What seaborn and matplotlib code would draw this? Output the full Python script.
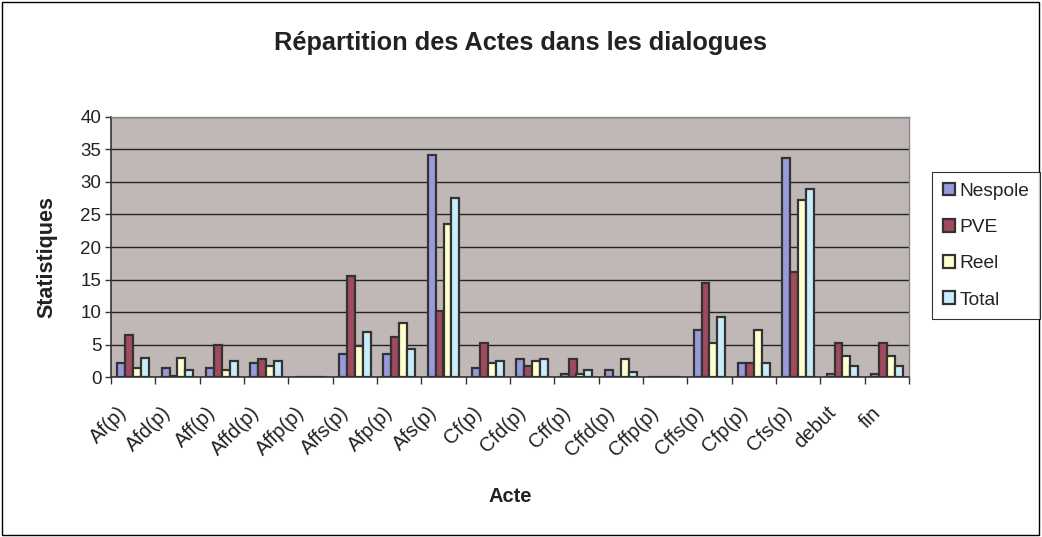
import matplotlib
matplotlib.use('Agg')
from matplotlib import pyplot as plt
from matplotlib.patches import Rectangle
from matplotlib.transforms import ScaledTranslation
import numpy as np
import pandas as pd
import seaborn as sns

actes = ['Af(p)', 'Afd(p)', 'Aff(p)', 'Affd(p)', 'Affp(p)', 'Affs(p)', 'Afp(p)', 'Afs(p)',
         'Cf(p)', 'Cfd(p)', 'Cff(p)', 'Cffd(p)', 'Cffp(p)', 'Cffs(p)', 'Cfp(p)', 'Cfs(p)',
         'debut', 'fin']
nespole = [2.1, 1.4, 1.4, 2.1, 0, 3.6, 3.6, 34.1, 1.4, 2.7, 0.5, 1.1, 0, 7.3, 2.1, 33.7, 0.5, 0.5]
pve = [6.4, 0.2, 4.9, 2.7, 0, 15.6, 6.1, 10.1, 5.2, 1.7, 2.7, 0, 0, 14.4, 2.1, 16.2, 5.2, 5.2]
reel = [1.4, 3.0, 1.1, 1.7, 0, 4.8, 8.3, 23.6, 2.1, 2.4, 0.5, 2.7, 0, 5.2, 7.3, 27.3, 3.3, 3.3]
total = [3.0, 1.1, 2.4, 2.4, 0, 7.0, 4.3, 27.6, 2.4, 2.7, 1.1, 0.8, 0, 9.2, 2.1, 28.9, 1.7, 1.7]

series = ['Nespole', 'PVE', 'Reel', 'Total']
colors = ['#9999DD', '#A04A5E', '#FFFFD0', '#C8EEFC']
TXT = '#222222'

df = pd.DataFrame({'Acte': actes, 'Nespole': nespole, 'PVE': pve, 'Reel': reel, 'Total': total})
long_df = df.melt(id_vars='Acte', var_name='Serie', value_name='Statistiques')

sns.set_theme(style='white')
plt.rcParams['font.family'] = ['Liberation Sans', 'DejaVu Sans']

fig = plt.figure(figsize=(10.42, 5.37), dpi=100)
ax = fig.add_axes([111 / 1042, 1 - 377 / 537, (909 - 111) / 1042, 260 / 537])

sns.barplot(data=long_df, x='Acte', y='Statistiques', hue='Serie', hue_order=series,
            palette=colors, width=0.72, edgecolor='#333333', linewidth=1.6,
            saturation=1, ax=ax, legend=True)

ax.set_facecolor('#C0B8B6')
ax.set_ylim(0, 40)
ax.set_xlim(-0.5, len(actes) - 0.5)
ax.set_yticks(np.arange(0, 41, 5))
ax.yaxis.grid(True, color='#222222', linewidth=1)
ax.set_axisbelow(True)
for s in ['top', 'right']:
    ax.spines[s].set_color('#888888')
    ax.spines[s].set_linewidth(1)
for s in ['left', 'bottom']:
    ax.spines[s].set_color('#333333')
    ax.spines[s].set_linewidth(1.2)

ax.tick_params(axis='y', which='major', direction='out', length=4, width=1,
               color='#333333', labelsize=13.5, pad=3, left=True, labelcolor=TXT)
ax.set_xticks(np.arange(len(actes)))
ax.set_xticks(np.arange(-0.5, len(actes), 1), minor=True)
ax.tick_params(axis='x', which='major', length=0, labelsize=14.5, pad=0, labelcolor=TXT)
ax.tick_params(axis='x', which='minor', direction='out', length=5, width=1,
               color='#333333', bottom=True)
ax.set_xticklabels(actes, rotation=45, ha='right', va='top', rotation_mode='anchor')
shift = ScaledTranslation(-16 / 100, -26 / 100, fig.dpi_scale_trans)
for lab in ax.get_xticklabels():
    lab.set_transform(lab.get_transform() + shift)

ax.set_xlabel('')
ax.set_ylabel('')
fig.text(510 / 1042, 1 - 497 / 537, 'Acte', ha='center', va='center',
         fontsize=14.5, fontweight='bold', color=TXT)
fig.text(47 / 1042, 1 - 257 / 537, 'Statistiques', ha='center', va='center', rotation=90,
         fontsize=15.5, fontweight='bold', color=TXT)

handles, labels = ax.get_legend_handles_labels()
ax.get_legend().remove()
leg = fig.legend(handles, labels, loc='upper left', bbox_to_anchor=(932 / 1042, 1 - 172 / 537),
                 frameon=True, fancybox=False, fontsize=13.8, labelspacing=1.0,
                 handlelength=0.65, handleheight=0.65, handletextpad=0.25, borderpad=0.55,
                 borderaxespad=0)
leg.get_frame().set_edgecolor('#000000')
leg.get_frame().set_linewidth(0.8)
for t in leg.get_texts():
    t.set_color(TXT)

fig.text(0.5, 1 - 43 / 537, 'Répartition des Actes dans les dialogues', ha='center', va='center',
         fontsize=18.3, fontweight='bold', color=TXT)

fig.patches.append(Rectangle((0.002, 0.003), 0.995, 0.994, transform=fig.transFigure,
                             fill=False, edgecolor='#000000', linewidth=1))

fig.savefig('out.png', dpi=100)
